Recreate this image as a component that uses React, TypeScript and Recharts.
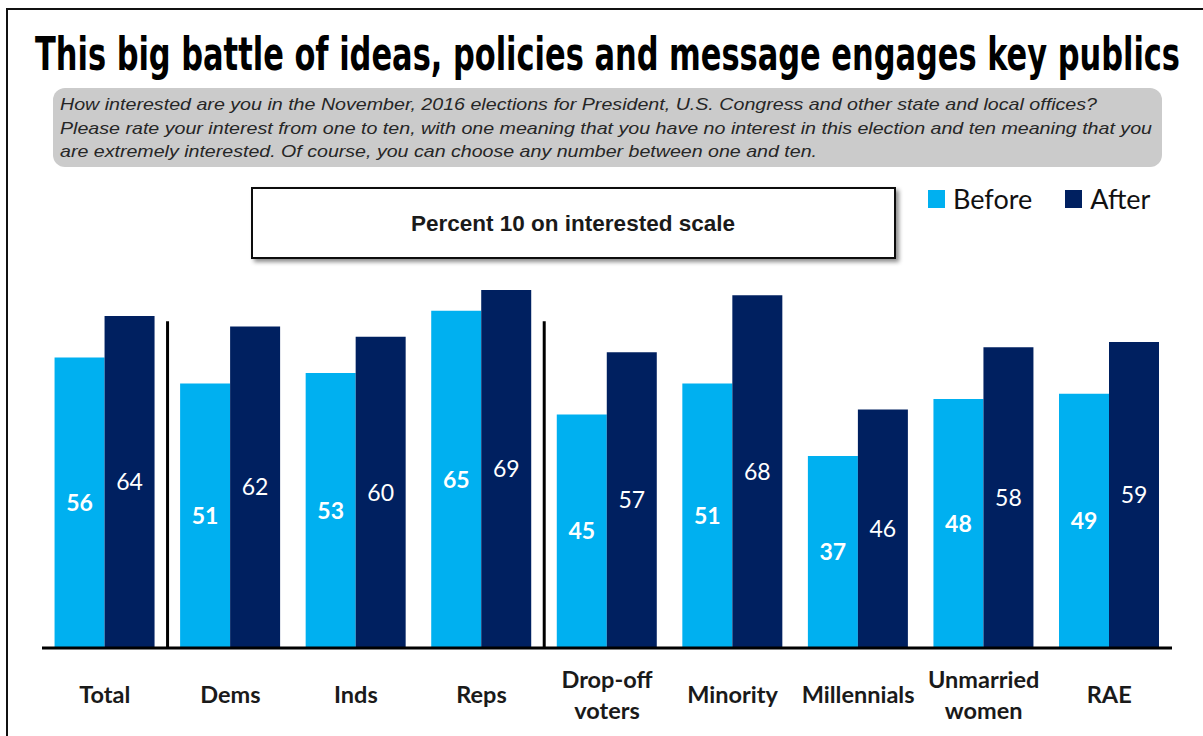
import { BarChart, Bar, XAxis, YAxis, LabelList, Legend, ReferenceLine } from "recharts";

const categories = [
  "Total",
  "Dems",
  "Inds",
  "Reps",
  "Drop-off voters",
  "Minority",
  "Millennials",
  "Unmarried women",
  "RAE",
];
const before = [56, 51, 53, 65, 45, 51, 37, 48, 49];
const after = [64, 62, 60, 69, 57, 68, 46, 58, 59];
// group separators sit after these categories
const dividers = ["Total", "Reps"];
const dividerTop = 63;
const seriesOrder = ["before", "after"];

const subtitleLines = [
  "How interested are you in the November, 2016 elections for President, U.S. Congress and other state and local offices?",
  "Please rate your interest from one to ten, with one meaning that you have no interest in this election and ten meaning that you",
  "are extremely interested. Of course, you can choose any number between one and ten.",
];

const LIGHT = "#00b0f0";
const DARK = "#002060";
const CAL = "Lato, 'Open Sans', sans-serif";

const data = categories.map((c, i) => ({ name: c, before: before[i], after: after[i] }));

function CategoryTick(props: any) {
  const { x, y, payload } = props;
  const label: string = payload.value;
  let lines = [label];
  if (label === "Drop-off voters") lines = ["Drop-off", "voters"];
  if (label === "Unmarried women") lines = ["Unmarried", "women"];
  const offsets = lines.length === 1 ? [55] : [40, 71];
  return (
    <g>
      {lines.map((l, i) => (
        <text
          key={i}
          x={x}
          y={y + offsets[i]}
          textAnchor="middle"
          fontFamily={CAL}
          fontWeight={700}
          fontSize={23.5}
          fill="#1a1a1a"
        >
          {l}
        </text>
      ))}
    </g>
  );
}

function LegendContent(props: any) {
  const items = [...(props.payload || [])].sort(
    (a: any, b: any) => seriesOrder.indexOf(a.dataKey) - seriesOrder.indexOf(b.dataKey)
  );
  return (
    <div style={{ display: "flex", alignItems: "center", fontFamily: CAL, fontSize: 27, color: "#111", lineHeight: "32px" }}>
      {items.map((it: any, i: number) => (
        <div key={i} style={{ display: "flex", alignItems: "center", marginRight: i === 0 ? 33 : 0 }}>
          <div style={{ width: 17, height: 18, background: it.color, marginRight: 8 }} />
          <span>{it.value}</span>
        </div>
      ))}
    </div>
  );
}

export default function App() {
  return (
    <div
      style={{
        position: "fixed",
        left: 0,
        top: 0,
        width: 1203,
        height: 736,
        background: "#fff",
        overflow: "hidden",
      }}
    >
      {/* slide frame */}
      <div
        style={{
          position: "absolute",
          left: 6,
          top: 8,
          width: 1210,
          height: 760,
          borderLeft: "2px solid #111",
          borderTop: "2px solid #111",
        }}
      />
      <BarChart
        width={1203}
        height={736}
        data={data}
        margin={{ top: 201, right: 31, bottom: 0, left: 42 }}
        barCategoryGap="10%"
        barGap={0}
      >
        <XAxis
          dataKey="name"
          height={88}
          tickLine={false}
          tickSize={0}
          tickMargin={0}
          interval={0}
          axisLine={{ stroke: "#000", strokeWidth: 3 }}
          tick={<CategoryTick />}
        />
        <YAxis domain={[0, 80]} hide />
        {dividers.map((d) => (
          <ReferenceLine
            key={d}
            position="end"
            segment={[
              { x: d, y: 0 },
              { x: d, y: dividerTop },
            ]}
            stroke="#000"
            strokeWidth={3}
          />
        ))}
        <Legend
          verticalAlign="top"
          align="left"
          height={32}
          content={<LegendContent />}
          wrapperStyle={{ position: "absolute", top: 183, left: 928, width: 260 }}
        />
        <Bar dataKey="before" name="Before" fill={LIGHT} isAnimationActive={false}>
          <LabelList
            dataKey="before"
            position="center"
            fill="#fff"
            fontFamily={CAL}
            fontWeight={700}
            fontSize={23}
          />
        </Bar>
        <Bar dataKey="after" name="After" fill={DARK} isAnimationActive={false}>
          <LabelList dataKey="after" position="center" fill="#fff" fontFamily={CAL} fontSize={23} />
        </Bar>
      </BarChart>

      <svg
        width={1203}
        height={270}
        style={{ position: "absolute", left: 0, top: 0, pointerEvents: "none" }}
      >
        <defs>
          <filter id="sh" x="-5%" y="-20%" width="110%" height="150%">
            <feDropShadow dx={3} dy={3} stdDeviation={2} floodColor="#000" floodOpacity={0.45} />
          </filter>
        </defs>
        <text
          x={35}
          y={70}
          textLength={1145}
          lengthAdjust="spacingAndGlyphs"
          fontFamily="'Liberation Sans Narrow', 'DejaVu Sans Condensed', sans-serif"
          fontWeight={700}
          fontSize={46}
          fill="#000"
        >
          This big battle of ideas, policies and message engages key publics
        </text>
        <rect x={53} y={88} width={1109} height={79} rx={12} fill="#cbcbcb" />
        {subtitleLines.map((l, i) => (
          <text
            key={i}
            x={60}
            y={110 + i * 23.5}
            fontFamily="'Liberation Sans', Arial, sans-serif"
            fontStyle="italic"
            fontSize={17}
            fill="#262626"
            textLength={[1037, 1092, 757][i]}
            lengthAdjust="spacingAndGlyphs"
          >
            {l}
          </text>
        ))}
        <rect x={252} y={188} width={643} height={70} fill="#fff" stroke="#111" strokeWidth={2} filter="url(#sh)" />
        <text
          x={573}
          y={231}
          textAnchor="middle"
          fontFamily="'Liberation Sans', Arial, sans-serif"
          fontWeight={700}
          fontSize={22.5}
          fill="#1a1a1a"
        >
          Percent 10 on interested scale
        </text>
      </svg>
    </div>
  );
}
